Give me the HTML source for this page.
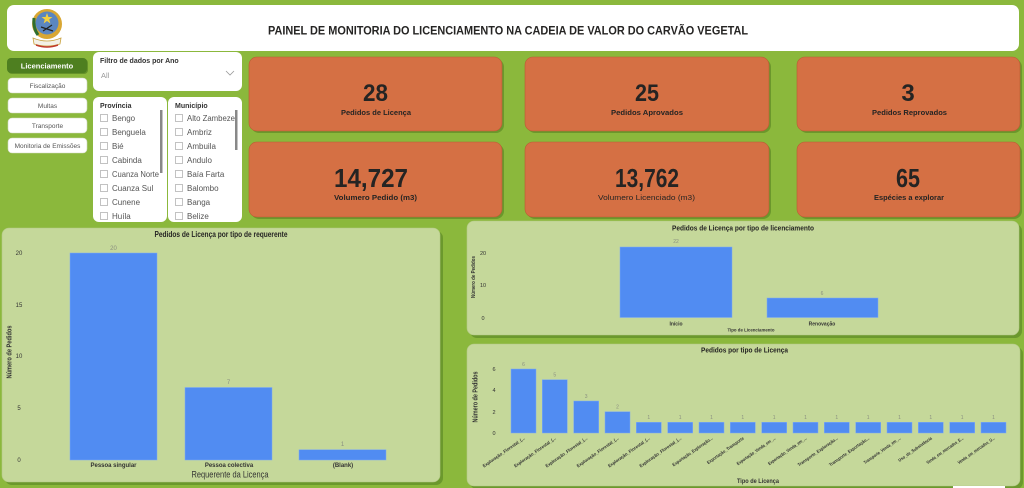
<!DOCTYPE html>
<html><head><meta charset="utf-8"><style>
html,body{margin:0;padding:0;background:#8bb83c;}
svg{display:block;font-family:"Liberation Sans",sans-serif;}
</style></head><body>
<svg width="1024" height="488" viewBox="0 0 1024 488" xmlns="http://www.w3.org/2000/svg">
<defs>
<clipPath id="cp1"><rect x="93" y="97" width="74" height="125" rx="6"/></clipPath>
<clipPath id="cp2"><rect x="168" y="97" width="74" height="125" rx="6"/></clipPath>
</defs>
<rect width="1024" height="488" fill="#8bb83c"/>

<!-- Header -->
<rect x="7" y="5" width="1012" height="46" rx="7" fill="#ffffff"/>
<g>
 <circle cx="47" cy="24" r="15" fill="#d9a733"/>
 <circle cx="47" cy="23" r="11.5" fill="#5b86c0"/>
 <path d="M34 18 Q33 28 38 35" stroke="#2f6e2e" stroke-width="3" fill="none"/>
 <polygon points="47,13 48.4,17 52.5,17 49.2,19.5 50.4,23.5 47,21 43.6,23.5 44.8,19.5 41.5,17 45.6,17" fill="#f4d03f"/>
 <path d="M41 27 L53 31 M43 31 L52 25" stroke="#222" stroke-width="1.2"/>
 <path d="M33 38 Q47 44 61 38 L60 44 Q47 48 34 44 Z" fill="#f3f0e6" stroke="#c9a13c" stroke-width="0.8"/>
 <path d="M36 45 Q47 49 58 45" stroke="#c0392b" stroke-width="1.5" fill="none"/>
</g>
<text x="268" y="34.5" font-size="12" font-weight="bold" fill="#252423" textLength="480" lengthAdjust="spacingAndGlyphs">PAINEL DE MONITORIA DO LICENCIAMENTO NA CADEIA DE VALOR DO CARVÃO VEGETAL</text>

<!-- Nav buttons -->
<rect x="8" y="59" width="80" height="15" rx="4" fill="#3f6b17" opacity="0.5"/>
<rect x="7" y="58" width="80" height="15" rx="4" fill="#4e7f20"/>
<text x="47" y="68.5" font-size="7.5" font-weight="bold" fill="#ffffff" text-anchor="middle">Licenciamento</text>
<g font-size="6.5" fill="#555" text-anchor="middle">
 <rect x="8" y="78" width="79" height="15" rx="4" fill="#fff" stroke="#cfd8c0" stroke-width="0.6"/>
 <text x="47.5" y="88">Fiscalização</text>
 <rect x="8" y="98" width="79" height="15" rx="4" fill="#fff" stroke="#cfd8c0" stroke-width="0.6"/>
 <text x="47.5" y="108">Multas</text>
 <rect x="8" y="118" width="79" height="15" rx="4" fill="#fff" stroke="#cfd8c0" stroke-width="0.6"/>
 <text x="47.5" y="128">Transporte</text>
 <rect x="8" y="138" width="79" height="15" rx="4" fill="#fff" stroke="#cfd8c0" stroke-width="0.6"/>
 <text x="47.5" y="148">Monitoria de Emissões</text>
</g>

<!-- Filter -->
<rect x="93" y="52" width="149" height="39" rx="6" fill="#ffffff"/>
<text x="100" y="63" font-size="7" font-weight="bold" fill="#333">Filtro de dados por Ano</text>
<text x="101" y="78" font-size="7.5" fill="#999">All</text>
<polyline points="226,71 230,75 234,71" fill="none" stroke="#999" stroke-width="0.8"/>

<!-- Provincia -->
<rect x="93" y="97" width="74" height="125" rx="6" fill="#ffffff"/>
<g clip-path="url(#cp1)">
<text x="100" y="108" font-size="7" font-weight="bold" fill="#333">Província</text>
<rect x="160" y="110" width="2.5" height="63" fill="#888"/>
<g font-size="8" fill="#555">
 <rect x="100.5" y="114.5" width="7" height="7" fill="none" stroke="#999" stroke-width="0.6"/><text x="112" y="121">Bengo</text>
 <rect x="100.5" y="128.5" width="7" height="7" fill="none" stroke="#999" stroke-width="0.6"/><text x="112" y="135">Benguela</text>
 <rect x="100.5" y="142.5" width="7" height="7" fill="none" stroke="#999" stroke-width="0.6"/><text x="112" y="149">Bié</text>
 <rect x="100.5" y="156.5" width="7" height="7" fill="none" stroke="#999" stroke-width="0.6"/><text x="112" y="163">Cabinda</text>
 <rect x="100.5" y="170.5" width="7" height="7" fill="none" stroke="#999" stroke-width="0.6"/><text x="112" y="177" textLength="47" lengthAdjust="spacingAndGlyphs">Cuanza Norte</text>
 <rect x="100.5" y="184.5" width="7" height="7" fill="none" stroke="#999" stroke-width="0.6"/><text x="112" y="191">Cuanza Sul</text>
 <rect x="100.5" y="198.5" width="7" height="7" fill="none" stroke="#999" stroke-width="0.6"/><text x="112" y="205">Cunene</text>
 <rect x="100.5" y="212.5" width="7" height="7" fill="none" stroke="#999" stroke-width="0.6"/><text x="112" y="219">Huíla</text>
</g>
</g>

<!-- Municipio -->
<rect x="168" y="97" width="74" height="125" rx="6" fill="#ffffff"/>
<g clip-path="url(#cp2)">
<text x="175" y="108" font-size="7" font-weight="bold" fill="#333">Município</text>
<rect x="235" y="110" width="2.5" height="40" fill="#888"/>
<g font-size="8" fill="#555">
 <rect x="175.5" y="114.5" width="7" height="7" fill="none" stroke="#999" stroke-width="0.6"/><text x="187" y="121" textLength="48" lengthAdjust="spacingAndGlyphs">Alto Zambeze</text>
 <rect x="175.5" y="128.5" width="7" height="7" fill="none" stroke="#999" stroke-width="0.6"/><text x="187" y="135">Ambriz</text>
 <rect x="175.5" y="142.5" width="7" height="7" fill="none" stroke="#999" stroke-width="0.6"/><text x="187" y="149">Ambuila</text>
 <rect x="175.5" y="156.5" width="7" height="7" fill="none" stroke="#999" stroke-width="0.6"/><text x="187" y="163">Andulo</text>
 <rect x="175.5" y="170.5" width="7" height="7" fill="none" stroke="#999" stroke-width="0.6"/><text x="187" y="177">Baía Farta</text>
 <rect x="175.5" y="184.5" width="7" height="7" fill="none" stroke="#999" stroke-width="0.6"/><text x="187" y="191">Balombo</text>
 <rect x="175.5" y="198.5" width="7" height="7" fill="none" stroke="#999" stroke-width="0.6"/><text x="187" y="205">Banga</text>
 <rect x="175.5" y="212.5" width="7" height="7" fill="none" stroke="#999" stroke-width="0.6"/><text x="187" y="219">Belize</text>
</g>
</g>

<!-- KPI cards -->
<g fill="#5e8a26" opacity="0.7">
 <rect x="251" y="59" width="253" height="74" rx="8"/>
 <rect x="527" y="59" width="244" height="74" rx="8"/>
 <rect x="799" y="59" width="223" height="74" rx="8"/>
 <rect x="251" y="144" width="253" height="75" rx="8"/>
 <rect x="527" y="144" width="244" height="75" rx="8"/>
 <rect x="799" y="144" width="223" height="75" rx="8"/>
</g>
<g fill="#d57044" stroke="#b95d33" stroke-width="0.6">
 <rect x="249" y="57" width="253" height="74" rx="8"/>
 <rect x="525" y="57" width="244" height="74" rx="8"/>
 <rect x="797" y="57" width="223" height="74" rx="8"/>
 <rect x="249" y="142" width="253" height="75" rx="8"/>
 <rect x="525" y="142" width="244" height="75" rx="8"/>
 <rect x="797" y="142" width="223" height="75" rx="8"/>
</g>
<g fill="#252423" font-weight="bold" text-anchor="middle">
 <text x="375.5" y="101" font-size="24" textLength="25" lengthAdjust="spacingAndGlyphs">28</text>
 <text x="647" y="101" font-size="24" textLength="24" lengthAdjust="spacingAndGlyphs">25</text>
 <text x="908" y="101" font-size="24">3</text>
 <text x="371" y="187" font-size="26" textLength="74" lengthAdjust="spacingAndGlyphs">14,727</text>
 <text x="647" y="187" font-size="26" textLength="64" lengthAdjust="spacingAndGlyphs">13,762</text>
 <text x="908" y="187" font-size="26" textLength="24" lengthAdjust="spacingAndGlyphs">65</text>
 <text x="376" y="115" font-size="7.5" textLength="70" lengthAdjust="spacingAndGlyphs">Pedidos de Licença</text>
 <text x="647" y="115" font-size="7.5" textLength="72" lengthAdjust="spacingAndGlyphs">Pedidos Aprovados</text>
 <text x="909.5" y="115" font-size="7.5" textLength="75" lengthAdjust="spacingAndGlyphs">Pedidos Reprovados</text>
 <text x="375.5" y="200" font-size="7.5" textLength="83" lengthAdjust="spacingAndGlyphs">Volumero Pedido (m3)</text>
 <text x="646.5" y="200" font-size="7.5" font-weight="normal" textLength="97" lengthAdjust="spacingAndGlyphs">Volumero Licenciado (m3)</text>
 <text x="909" y="200" font-size="7.5" textLength="70" lengthAdjust="spacingAndGlyphs">Espécies a explorar</text>
</g>

<!-- Left chart panel -->
<rect x="5" y="231" width="438" height="254" rx="7" fill="#5e8a26" opacity="0.7"/>
<rect x="2" y="228" width="438" height="254" rx="7" fill="#c5d89a" stroke="#b3c985" stroke-width="0.6"/>
<text x="221" y="237" font-size="8" font-weight="bold" fill="#252423" text-anchor="middle" textLength="133" lengthAdjust="spacingAndGlyphs">Pedidos de Licença por tipo de requerente</text>
<g font-size="6" fill="#333" text-anchor="middle">
 <text x="19" y="255">20</text>
 <text x="19" y="307">15</text>
 <text x="19" y="358">10</text>
 <text x="19" y="410">5</text>
 <text x="19" y="462">0</text>
</g>
<text transform="translate(11.5,352) rotate(-90)" font-size="7" font-weight="bold" fill="#333" text-anchor="middle" textLength="53" lengthAdjust="spacingAndGlyphs">Número de Pedidos</text>
<g fill="#518cf2" stroke="#7ea9f5" stroke-width="0.5">
 <rect x="70" y="253" width="87" height="207"/>
 <rect x="185" y="387.5" width="87" height="72.5"/>
 <rect x="299" y="449.7" width="87" height="10.3"/>
</g>
<g font-size="6" fill="#8a8f80" text-anchor="middle">
 <text x="113.5" y="250">20</text>
 <text x="228.5" y="384">7</text>
 <text x="342.5" y="446">1</text>
</g>
<g font-size="6" font-weight="bold" fill="#333" text-anchor="middle">
 <text x="113.5" y="467">Pessoa singular</text>
 <text x="229" y="467">Pessoa colectiva</text>
 <text x="343" y="467">(Blank)</text>
</g>
<text x="230" y="477.5" font-size="9" fill="#333" text-anchor="middle" textLength="77" lengthAdjust="spacingAndGlyphs">Requerente da Licença</text>

<!-- Top right chart panel -->
<rect x="470" y="224" width="552" height="114" rx="7" fill="#5e8a26" opacity="0.7"/>
<rect x="467" y="221" width="552" height="114" rx="7" fill="#c5d89a" stroke="#b3c985" stroke-width="0.6"/>
<text x="743" y="230.5" font-size="7.5" font-weight="bold" fill="#252423" text-anchor="middle" textLength="142" lengthAdjust="spacingAndGlyphs">Pedidos de Licença por tipo de licenciamento</text>
<g font-size="5.5" fill="#333" text-anchor="middle">
 <text x="483" y="255">20</text>
 <text x="483" y="287">10</text>
 <text x="483" y="320">0</text>
</g>
<text transform="translate(475,277) rotate(-90)" font-size="5" font-weight="bold" fill="#333" text-anchor="middle" textLength="42" lengthAdjust="spacingAndGlyphs">Número de Pedidos</text>
<g fill="#518cf2" stroke="#7ea9f5" stroke-width="0.5">
 <rect x="620" y="247" width="112" height="70.5"/>
 <rect x="767" y="298" width="111" height="19.5"/>
</g>
<g font-size="5" fill="#8a8f80" text-anchor="middle">
 <text x="676" y="243">22</text>
 <text x="822" y="295">6</text>
</g>
<g font-size="5" font-weight="bold" fill="#333" text-anchor="middle">
 <text x="676" y="325.5">Início</text>
 <text x="822" y="325.5">Renovação</text>
</g>
<text x="751" y="331.5" font-size="4.5" font-weight="bold" fill="#333" text-anchor="middle" textLength="47" lengthAdjust="spacingAndGlyphs">Tipo de Licenciamento</text>

<!-- Bottom right chart panel -->
<rect x="470" y="347" width="553" height="142" rx="7" fill="#5e8a26" opacity="0.7"/>
<rect x="467" y="344" width="553" height="142" rx="7" fill="#c5d89a" stroke="#b3c985" stroke-width="0.6"/>
<text x="744.5" y="352.5" font-size="7" font-weight="bold" fill="#252423" text-anchor="middle" textLength="87" lengthAdjust="spacingAndGlyphs">Pedidos por tipo de Licença</text>
<g font-size="5.5" fill="#333" text-anchor="middle">
 <text x="494" y="371">6</text>
 <text x="494" y="392">4</text>
 <text x="494" y="414">2</text>
 <text x="494" y="435">0</text>
</g>
<text transform="translate(477.5,397) rotate(-90)" font-size="7" font-weight="bold" fill="#333" text-anchor="middle" textLength="51" lengthAdjust="spacingAndGlyphs">Número de Pedidos</text>
<g fill="#518cf2" stroke="#7ea9f5" stroke-width="0.5">
 <rect x="511" y="369" width="25" height="64"/>
 <rect x="542.3" y="379.7" width="25" height="53.3"/>
 <rect x="573.7" y="401" width="25" height="32"/>
 <rect x="605" y="411.7" width="25" height="21.3"/>
 <rect x="636.3" y="422.3" width="25" height="10.7"/>
 <rect x="667.7" y="422.3" width="25" height="10.7"/>
 <rect x="699" y="422.3" width="25" height="10.7"/>
 <rect x="730.3" y="422.3" width="25" height="10.7"/>
 <rect x="761.7" y="422.3" width="25" height="10.7"/>
 <rect x="793" y="422.3" width="25" height="10.7"/>
 <rect x="824.3" y="422.3" width="25" height="10.7"/>
 <rect x="855.7" y="422.3" width="25" height="10.7"/>
 <rect x="887" y="422.3" width="25" height="10.7"/>
 <rect x="918.3" y="422.3" width="25" height="10.7"/>
 <rect x="949.7" y="422.3" width="25" height="10.7"/>
 <rect x="981" y="422.3" width="25" height="10.7"/>
</g>
<g font-size="5" fill="#8a8f80" text-anchor="middle">
 <text x="523.5" y="366">6</text>
 <text x="554.8" y="376.5">5</text>
 <text x="586.2" y="398">3</text>
 <text x="617.5" y="408.5">2</text>
 <text x="648.8" y="419">1</text>
 <text x="680.2" y="419">1</text>
 <text x="711.5" y="419">1</text>
 <text x="742.8" y="419">1</text>
 <text x="774.2" y="419">1</text>
 <text x="805.5" y="419">1</text>
 <text x="836.8" y="419">1</text>
 <text x="868.2" y="419">1</text>
 <text x="899.5" y="419">1</text>
 <text x="930.8" y="419">1</text>
 <text x="962.2" y="419">1</text>
 <text x="993.5" y="419">1</text>
</g>
<g font-size="4.5" font-weight="bold" fill="#333" text-anchor="end">
 <text transform="translate(525,439) rotate(-35)" textLength="50" lengthAdjust="spacingAndGlyphs">Exploração_Florestal_(...</text>
 <text transform="translate(556.3,439) rotate(-35)" textLength="50" lengthAdjust="spacingAndGlyphs">Exploração_Florestal_(...</text>
 <text transform="translate(587.7,439) rotate(-35)" textLength="50" lengthAdjust="spacingAndGlyphs">Exploração_Florestal_(...</text>
 <text transform="translate(619,439) rotate(-35)" textLength="50" lengthAdjust="spacingAndGlyphs">Exploração_Florestal_(...</text>
 <text transform="translate(650.3,439) rotate(-35)" textLength="50" lengthAdjust="spacingAndGlyphs">Exploração_Florestal_(...</text>
 <text transform="translate(681.7,439) rotate(-35)" textLength="50" lengthAdjust="spacingAndGlyphs">Exploração_Florestal_(...</text>
 <text transform="translate(713,439) rotate(-35)" textLength="48" lengthAdjust="spacingAndGlyphs">Exportação_Exploração...</text>
 <text transform="translate(744.3,439) rotate(-35)" textLength="44" lengthAdjust="spacingAndGlyphs">Exportação_Transporte</text>
 <text transform="translate(775.7,439) rotate(-35)" textLength="46" lengthAdjust="spacingAndGlyphs">Exportação_Venda_em_...</text>
 <text transform="translate(807,439) rotate(-35)" textLength="46" lengthAdjust="spacingAndGlyphs">Exportação_Venda_em_...</text>
 <text transform="translate(838.3,439) rotate(-35)" textLength="48" lengthAdjust="spacingAndGlyphs">Transporte_Exploração...</text>
 <text transform="translate(869.7,439) rotate(-35)" textLength="48" lengthAdjust="spacingAndGlyphs">Transporte_Exportação...</text>
 <text transform="translate(901,439) rotate(-35)" textLength="44" lengthAdjust="spacingAndGlyphs">Transporte_Venda_em_...</text>
 <text transform="translate(932.3,439) rotate(-35)" textLength="40" lengthAdjust="spacingAndGlyphs">Uso_de_Subsistência</text>
 <text transform="translate(963.7,439) rotate(-35)" textLength="44" lengthAdjust="spacingAndGlyphs">Venda_em_mercados_E...</text>
 <text transform="translate(995,439) rotate(-35)" textLength="44" lengthAdjust="spacingAndGlyphs">Venda_em_mercados_U...</text>
</g>
<text x="758" y="483" font-size="6.5" font-weight="bold" fill="#333" text-anchor="middle" textLength="42" lengthAdjust="spacingAndGlyphs">Tipo de Licença</text>
<rect x="953" y="486" width="52" height="2" fill="#ffffff"/>
</svg>
</body></html>
